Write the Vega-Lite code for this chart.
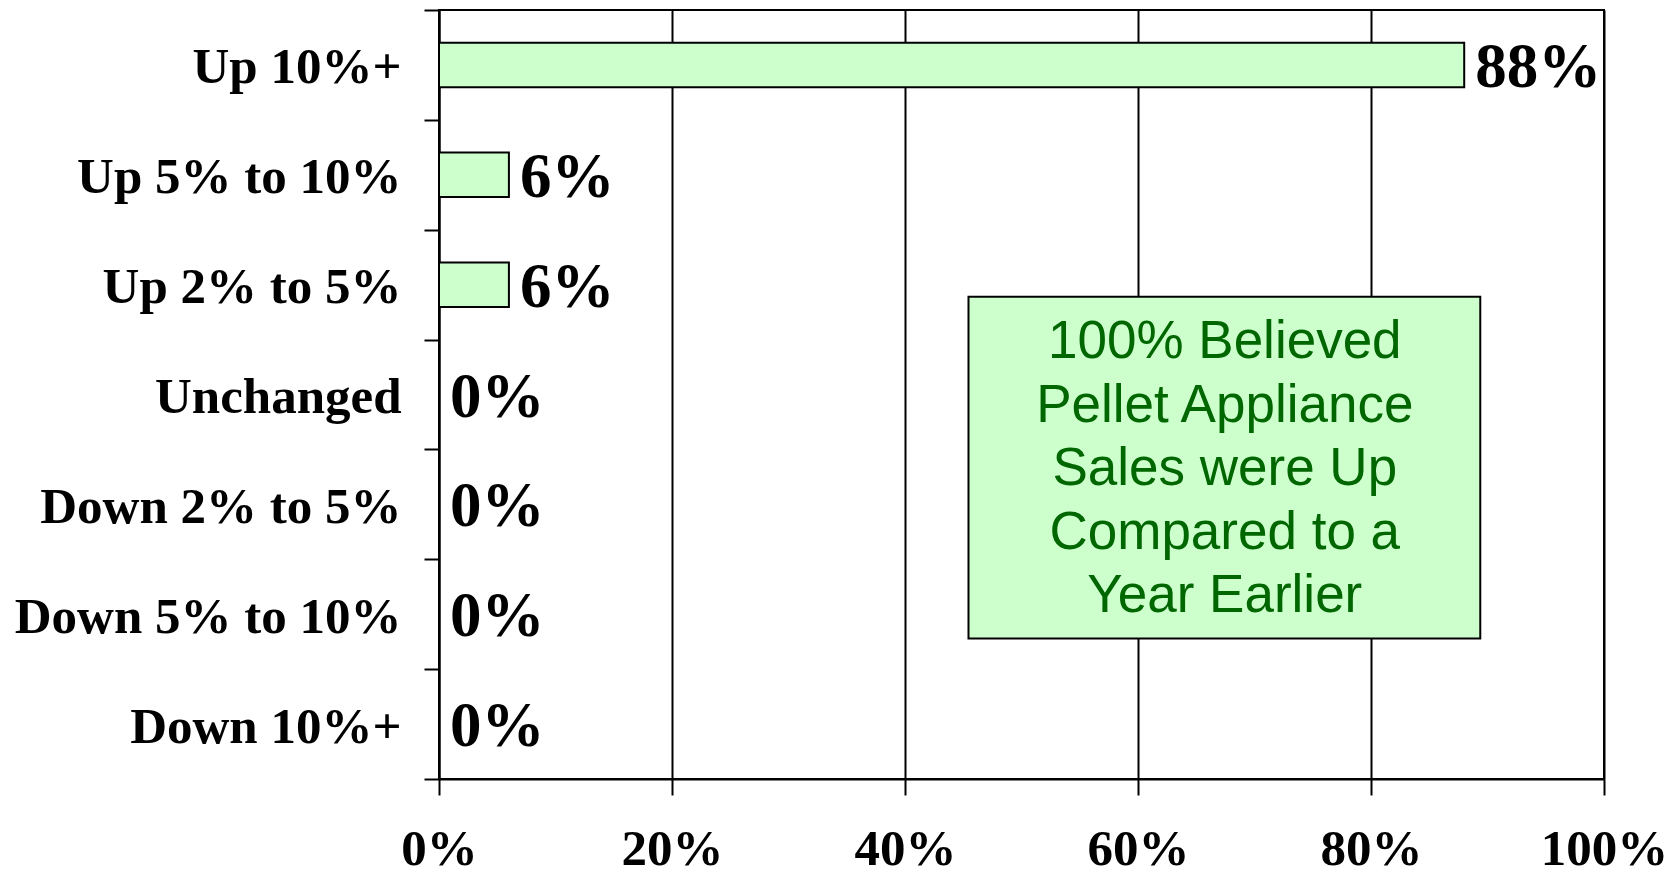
{
  "$schema": "https://vega.github.io/schema/vega-lite/v6.json",
  "width": 1165,
  "height": 769,
  "autosize": {"type": "none"},
  "padding": {"left": 439, "top": 10, "right": 73, "bottom": 94},
  "background": "white",
  "config": {
    "view": {"stroke": "black", "strokeWidth": 2}
  },
  "layer": [
    {
      "data": {
        "values": [
          {"cat": "Up 10%+", "v": 0.88},
          {"cat": "Up 5% to 10%", "v": 0.06},
          {"cat": "Up 2% to 5%", "v": 0.06},
          {"cat": "Unchanged", "v": 0},
          {"cat": "Down 2% to 5%", "v": 0},
          {"cat": "Down 5% to 10%", "v": 0},
          {"cat": "Down 10%+", "v": 0}
        ]
      },
      "layer": [
        {
          "mark": {"type": "bar", "fill": "#CCFFCC", "stroke": "black", "strokeWidth": 2, "height": {"band": 0.405}},
          "encoding": {
            "y": {
              "field": "cat", "type": "nominal", "sort": null,
              "scale": {"paddingInner": 0, "paddingOuter": 0},
              "axis": {
                "title": null, "tickBand": "extent", "grid": false,
                "domainColor": "black", "domainWidth": 2,
                "tickColor": "black", "tickWidth": 2, "tickSize": 15,
                "labelFont": "Liberation Serif", "labelFontWeight": "bold", "labelFontSize": 51,
                "labelColor": "black", "labelPadding": 23, "labelLimit": 600, "labelOffset": 3
              }
            },
            "x": {
              "field": "v", "type": "quantitative",
              "scale": {"domain": [0, 1]},
              "axis": {
                "title": null, "values": [0, 0.2, 0.4, 0.6, 0.8, 1], "format": ".0%",
                "grid": true, "gridColor": "black", "gridWidth": 2, "gridOpacity": 1,
                "domainColor": "black", "domainWidth": 2,
                "tickColor": "black", "tickWidth": 2, "tickSize": 16,
                "labelFont": "Liberation Serif", "labelFontWeight": "bold", "labelFontSize": 51,
                "labelColor": "black", "labelPadding": 29, "labelFlush": false
              }
            }
          }
        },
        {
          "mark": {"type": "text", "align": "left", "baseline": "middle", "dx": 11, "dy": 3,
                   "font": "Liberation Serif", "fontWeight": "bold", "fontSize": 63, "color": "black"},
          "encoding": {
            "y": {"field": "cat", "type": "nominal", "sort": null},
            "x": {"field": "v", "type": "quantitative"},
            "text": {"field": "v", "format": ".0%"}
          }
        }
      ]
    },
    {
      "data": {"values": [{"note": "100% Believed\nPellet Appliance\nSales were Up\nCompared to a\nYear Earlier"}]},
      "layer": [
        {
          "mark": {"type": "rect", "fill": "#CCFFCC", "stroke": "black", "strokeWidth": 2},
          "encoding": {
            "x": {"datum": 0.4545, "type": "quantitative"},
            "x2": {"datum": 0.8938},
            "y": {"datum": 2.61, "type": "quantitative", "scale": {"domain": [0, 7], "reverse": true}, "axis": null},
            "y2": {"datum": 5.72}
          }
        },
        {
          "mark": {"type": "text", "align": "center", "baseline": "middle", "lineBreak": "\n", "lineHeight": 63.6,
                   "font": "Liberation Sans", "fontSize": 53, "color": "#006600"},
          "encoding": {
            "x": {"datum": 0.6745, "type": "quantitative"},
            "y": {"datum": 3.022, "type": "quantitative", "axis": null},
            "text": {"field": "note"}
          }
        }
      ]
    }
  ],
  "resolve": {"scale": {"y": "independent"}}
}
